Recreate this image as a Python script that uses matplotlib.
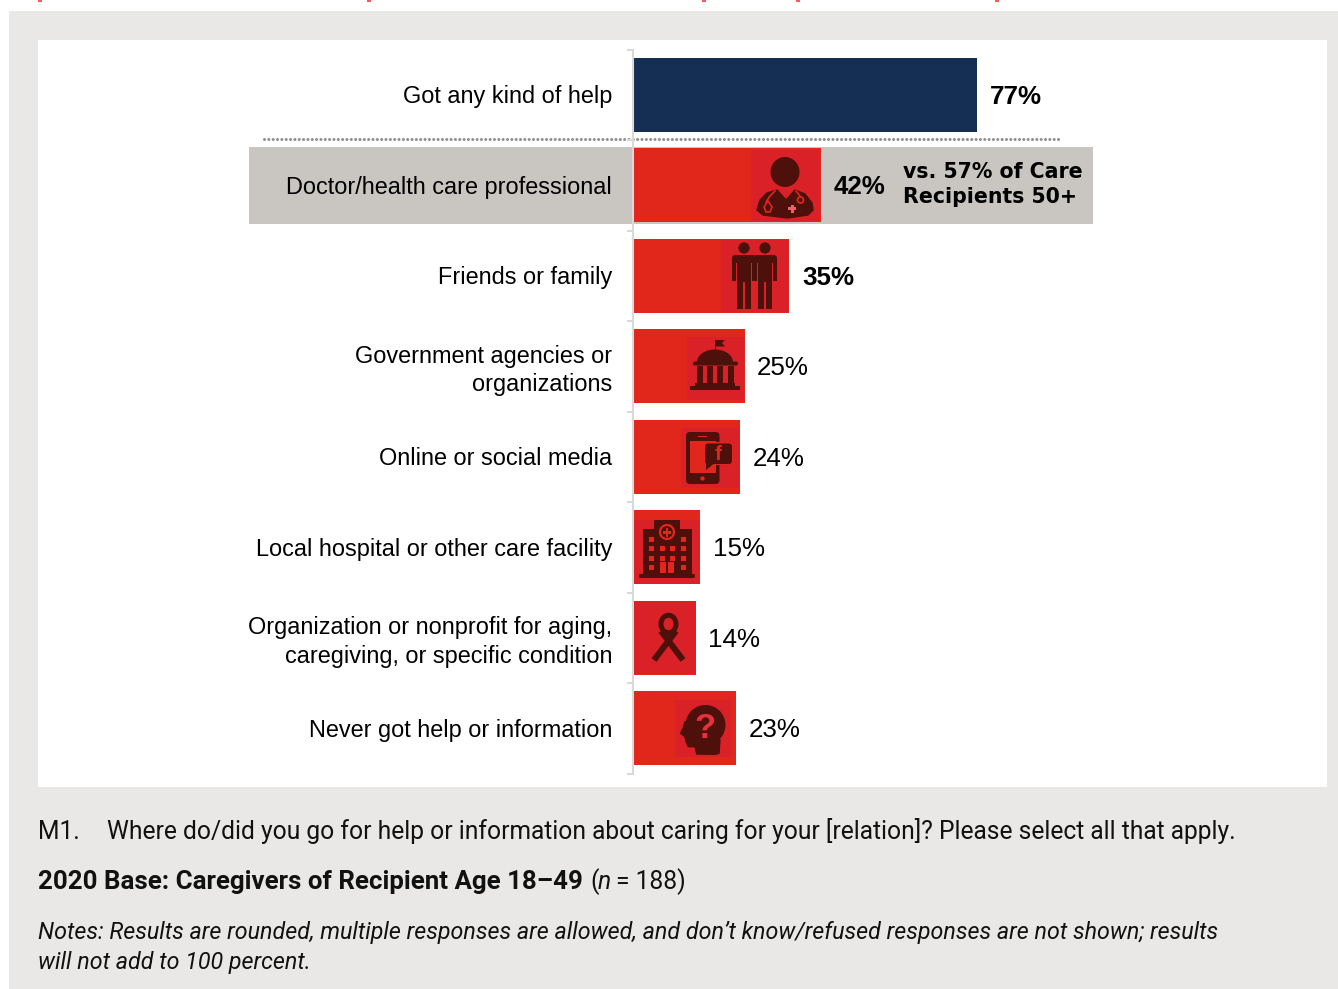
import matplotlib
matplotlib.use("Agg")
import matplotlib.pyplot as plt
from matplotlib.patches import Rectangle, Ellipse, Polygon, Circle, FancyBboxPatch
from matplotlib.lines import Line2D
from matplotlib.transforms import ScaledTranslation

categories = [
    "Got any kind of help",
    "Doctor/health care professional",
    "Friends or family",
    "Government agencies or\norganizations",
    "Online or social media",
    "Local hospital or other care facility",
    "Organization or nonprofit for aging,\ncaregiving, or specific condition",
    "Never got help or information",
]
values = [77, 42, 35, 25, 24, 15, 14, 23]
bold_values = [True, True, True, False, False, False, False, False]
bar_colors = ["#152E54"] + ["#E1261C"] * 7

comparison_note = "vs. 57% of Care\nRecipients 50+"
question_prefix = "M1."
question_text = ("Where do/did you go for help or information about caring for your "
                 "[relation]? Please select all that apply.")
base_text = "2020 Base: Caregivers of Recipient Age 18–49"
notes_lines = [
    "Notes: Results are rounded, multiple responses are allowed, and don’t know/refused responses are not shown; results",
    "will not add to 100 percent.",
]

W, H = 1338, 989
LABEL_FONT = "Liberation Sans"
NOTE_FONT = "Roboto"
GLYPH = "#4D100B"
ICON_BG = "#DB2128"
RED = "#E1261C"
AXIS_GREY = "#D9D9D9"
INK = "#111111"

fig = plt.figure(figsize=(W / 100, H / 100), dpi=100, facecolor="white")


def pixel_axes(z):
    a = fig.add_axes([0, 0, 1, 1], zorder=z)
    a.set_xlim(0, W)
    a.set_ylim(H, 0)
    a.axis("off")
    return a


# Page furniture behind the chart
back = pixel_axes(0)
back.add_patch(Rectangle((9, 11), W - 9, H - 11, fc="#E9E8E6", ec="none"))
back.add_patch(Rectangle((38, 40), 1289, 747, fc="white", ec="none"))
back.add_patch(Rectangle((249, 147), 844, 77, fc="#C9C5C1", ec="none"))
back.add_line(Line2D([264, 1060], [139, 139], color="#8F8F8F", lw=2.2,
                     linestyle=(0, (0.01, 1.41)), dash_capstyle="round"))
for x in (40, 369, 704, 798, 997):
    back.add_patch(Rectangle((x - 2, 0), 4, 1.5, fc="#F0605A", ec="none"))

# Bar chart: x axis in percent, 4.468 px per point, rows 90.5 px apart
ax = fig.add_axes([633 / W, 1 - 773.5 / H, 446.8 / W, 724 / H], zorder=1)
ax.patch.set_alpha(0)
ax.set_xlim(0, 100)
ax.set_ylim(len(values) - 0.5, -0.5)
ypos = list(range(len(values)))
ax.barh(ypos, values, height=0.815, color=bar_colors, edgecolor="none", zorder=2)
for s in ("top", "right", "bottom"):
    ax.spines[s].set_visible(False)
ax.spines["left"].set_color(AXIS_GREY)
ax.spines["left"].set_linewidth(1.5)
ax.spines["left"].set_zorder(3)
ax.xaxis.set_visible(False)
ax.set_yticks(ypos)
ax.set_yticklabels(categories, fontfamily=LABEL_FONT, fontsize=16.9, color="black",
                   linespacing=1.3)
ax.tick_params(axis="y", which="major", length=0, pad=15)
ax.set_yticks([y - 0.5 for y in range(len(values) + 1)], minor=True)
ax.tick_params(axis="y", which="minor", length=4.3, width=1.5, color=AXIS_GREY)
for lab, name in zip(ax.get_yticklabels(), categories):
    nudge = 0.8 if "\n" in name else 0.3
    lab.set_transform(lab.get_transform() + ScaledTranslation(0, nudge / 100, fig.dpi_scale_trans))

for y, v, b in zip(ypos, values, bold_values):
    ax.text(v + 2.8, y + 0.02, f"{v}%", va="center", ha="left", fontfamily=LABEL_FONT,
            fontsize=18.7, fontweight="bold" if b else "normal", color="black")

# Icons, drawn over the bars in figure pixels
top = pixel_axes(2)


def bg(x0, y0, x1, y1):
    top.add_patch(Rectangle((x0, y0), x1 - x0, y1 - y0, fc=ICON_BG, ec="none"))


def rbox(x0, y0, x1, y1, r, color=GLYPH):
    top.add_patch(FancyBboxPatch((x0 + r, y0 + r), x1 - x0 - 2 * r, y1 - y0 - 2 * r,
                                 boxstyle=f"round,pad={r}", fc=color, ec="none"))


def rect(x0, y0, x1, y1, color=GLYPH):
    top.add_patch(Rectangle((x0, y0), x1 - x0, y1 - y0, fc=color, ec="none"))


# Doctor
bg(751, 150, 820, 221)
top.add_patch(Ellipse((785, 172), 29, 30, fc=GLYPH, ec="none"))
top.add_patch(Polygon([(757, 210), (760, 200), (767, 193), (777, 190), (786, 200), (795, 190),
                       (805, 194), (812, 203), (813, 210), (808, 215), (787, 218), (763, 215)],
                      closed=True, fc=GLYPH, ec=GLYPH, lw=1, joinstyle="round"))
top.add_line(Line2D([775, 770, 766], [191, 196, 202], color=RED, lw=1.2))
top.add_line(Line2D([796, 800], [191, 196], color=RED, lw=1.2))
top.add_patch(Circle((800.5, 200), 3, fc=GLYPH, ec=RED, lw=1.3))
top.add_patch(Polygon([(768, 201), (772, 207), (770, 212), (766, 212), (764, 207)],
                      closed=True, fc=GLYPH, ec=RED, lw=1.2))
rect(788, 207, 796, 210, "#F0606A")
rect(790.5, 204.5, 793.5, 212.5, "#F0606A")

# Two people
bg(721, 240, 789, 312)
for cx in (744, 765):
    top.add_patch(Circle((cx, 248), 5.6, fc=GLYPH, ec="none"))
    rbox(cx - 12, 255, cx + 12, 263, 3.5)
    rect(cx - 12, 259, cx - 8, 281)
    rect(cx + 8, 259, cx + 12, 281)
    rect(cx - 7, 259, cx + 7, 282)
    rect(cx - 7, 282, cx - 1, 309)
    rect(cx + 1, 282, cx + 7, 309)

# Government building
bg(687, 337, 744, 400)
rect(714.5, 340, 716, 352)
top.add_patch(Polygon([(716, 340), (725, 340), (722, 343), (725, 346.5), (716, 346.5)],
                      closed=True, fc=GLYPH, ec="none"))
top.add_patch(Ellipse((715, 362), 36, 25, fc=GLYPH, ec="none"))
rect(695, 362, 736, 380, ICON_BG)
rbox(693, 361.5, 738, 365.5, 2)
for x0 in (697, 707, 717, 727.5):
    rect(x0, 366, x0 + 6, 384)
rect(695, 383, 735, 386)
rect(690, 386, 740, 389.5)

# Phone with message bubble
bg(681, 428, 740, 488)
rbox(686, 432, 719.5, 484, 4)
rect(690, 441, 715.5, 473, RED)
top.add_patch(Circle((702.5, 478.5), 2.2, fc=RED, ec="none"))
rect(698, 435.5, 707, 437, RED)
rbox(703, 442, 733, 465, 3, RED)
rbox(705, 443.5, 732, 464, 3)
top.add_patch(Polygon([(706, 462), (716, 462), (706, 470)], closed=True, fc=GLYPH, ec="none"))
top.text(718, 454, "f", color=RED, fontfamily=LABEL_FONT, fontweight="bold", fontsize=15,
         ha="center", va="center")

# Hospital
bg(634, 520, 700, 584)
rect(654, 520, 680, 530)
rect(643, 529, 692, 576)
rbox(639, 574, 695, 578, 1.5)
top.add_patch(Circle((667, 532), 7, fc=GLYPH, ec=RED, lw=1.6))
rect(663, 531, 671, 533.5, RED)
rect(665.7, 528, 668.3, 536.5, RED)
for wy in (536.5, 546, 556):
    for wx in (648.5, 659.5, 670, 681):
        if wy == 536.5 and wx in (659.5, 670):
            continue
        rect(wx, wy, wx + 5.2, wy + 5, RED)
for wx in (648.5, 681):
    rect(wx, 565, wx + 5.2, 570, RED)
rect(660, 562, 666, 573, RED)
rect(667.5, 562, 673.5, 573, RED)

# Awareness ribbon
bg(634, 601, 695.5, 674)
top.add_line(Line2D([676, 654], [631, 660], color=GLYPH, lw=4.4, solid_capstyle="butt"))
top.add_line(Line2D([661, 683], [631, 660], color=GLYPH, lw=4.4, solid_capstyle="butt"))
top.add_patch(Ellipse((668.5, 624), 15, 17.5, fc=ICON_BG, ec=GLYPH, lw=3.6))

# Head with question mark
bg(675, 700, 731, 757)
top.add_patch(Ellipse((705.5, 725), 40, 40, fc=GLYPH, ec="none"))
pts = [(195, 395), (190, 412), (182, 430), (195, 440), (198, 455), (205, 470), (225, 470),
       (230, 492), (285, 493), (297, 490), (300, 450), (255, 400)]
top.add_patch(Polygon([(620 + x / 3, 590 + y / 3) for x, y in pts], closed=True, fc=GLYPH,
                      ec=GLYPH, lw=1, joinstyle="round"))
top.text(705, 728, "?", color="#E8303A", fontfamily=LABEL_FONT, fontweight="bold",
         fontsize=25, ha="center", va="center")

# Callout beside the highlighted row
top.text(903, 184.5, comparison_note, fontfamily="DejaVu Sans", fontweight="bold", fontsize=14.8,
         va="center", ha="left", linespacing=1.28, color="black")

# Footnotes
NS = 17.7
NI = 16.75
back.text(38, 839, question_prefix, fontfamily=NOTE_FONT, fontsize=NS, va="baseline", color=INK)
back.text(107, 839, question_text, fontfamily=NOTE_FONT, fontsize=NS, va="baseline", color=INK)
back.text(38, 889, base_text, fontfamily=NOTE_FONT, fontsize=18.6, fontweight="bold",
          va="baseline", color=INK)
back.text(590, 889, "(", fontfamily=NOTE_FONT, fontsize=NS, va="baseline", color=INK)
back.text(598, 889, "n", fontfamily=NOTE_FONT, fontsize=NS, style="italic", va="baseline", color=INK)
back.text(616, 889, "= 188)", fontfamily=NOTE_FONT, fontsize=NS, va="baseline", color=INK)
back.text(38, 939, notes_lines[0], fontfamily=NOTE_FONT, fontsize=NI, style="italic",
          va="baseline", color=INK)
back.text(38, 969, notes_lines[1], fontfamily=NOTE_FONT, fontsize=NI, style="italic",
          va="baseline", color=INK)

fig.savefig("out.png", dpi=100)
